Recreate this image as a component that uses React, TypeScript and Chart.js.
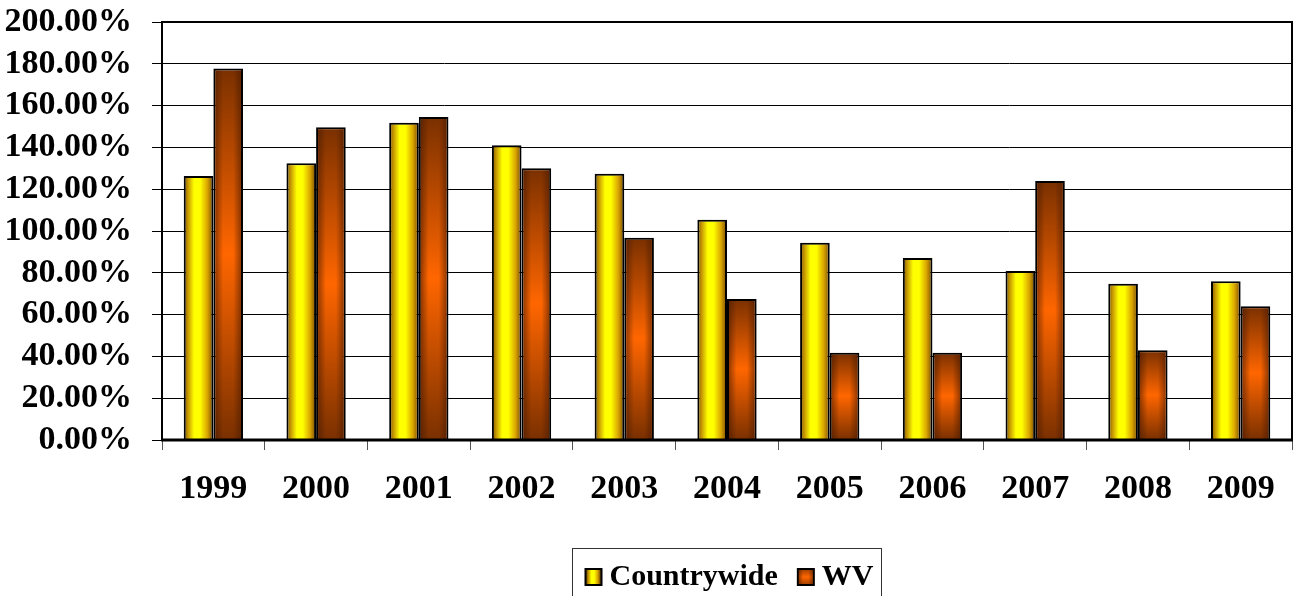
import React, { useEffect, useRef } from "react";
import { Chart, registerables } from "chart.js";

Chart.register(...registerables);

// Years on the category axis
const categories = ["1999", "2000", "2001", "2002", "2003", "2004", "2005", "2006", "2007", "2008", "2009"];

// Ratios in percent
const countrywide = [126.3, 132.4, 151.8, 141.0, 127.4, 105.4, 94.4, 87.1, 80.9, 74.8, 75.9];
const wv = [177.8, 149.6, 154.5, 130.0, 96.8, 67.5, 41.8, 41.8, 123.9, 42.9, 64.0];

const seriesLabels = ["Countrywide", "WV"];

const yMin = 0;
const yMax = 200;
const yStep = 20;

const FONT_FAMILY = "'Times New Roman', 'Liberation Serif', serif";

// Horizontal golden shading for the Countrywide bars
function goldGradient(ctx: CanvasRenderingContext2D, left: number, right: number) {
  const g = ctx.createLinearGradient(left, 0, right, 0);
  g.addColorStop(0, "#7a5400");
  g.addColorStop(0.15, "#c89a00");
  g.addColorStop(0.35, "#ffff00");
  g.addColorStop(0.55, "#ffff00");
  g.addColorStop(0.8, "#d9a400");
  g.addColorStop(1, "#744800");
  return g;
}

// Vertical brown-orange-brown shading for the WV bars
function orangeGradient(ctx: CanvasRenderingContext2D, top: number, bottom: number) {
  const g = ctx.createLinearGradient(0, top, 0, bottom);
  g.addColorStop(0, "#7a3000");
  g.addColorStop(0.5, "#ff6600");
  g.addColorStop(1, "#7a3000");
  return g;
}

function edgeShade(ctx: CanvasRenderingContext2D, left: number, right: number) {
  const g = ctx.createLinearGradient(left, 0, right, 0);
  g.addColorStop(0, "rgba(70,25,0,0.55)");
  g.addColorStop(0.3, "rgba(70,25,0,0)");
  g.addColorStop(0.7, "rgba(70,25,0,0)");
  g.addColorStop(1, "rgba(70,25,0,0.55)");
  return g;
}

const barShading = {
  id: "barShading",
  beforeDatasetsDraw(chart: any) {
    const ctx = chart.ctx;
    chart.data.datasets.forEach((_: any, di: number) => {
      const meta = chart.getDatasetMeta(di);
      meta.data.forEach((bar: any) => {
        const { x, y, base, width } = bar.getProps(["x", "y", "base", "width"], true);
        const fill =
          di === 0
            ? goldGradient(ctx, x - width / 2, x + width / 2)
            : orangeGradient(ctx, y, base);
        // each bar gets its own options object so the fills stay separate
        bar.options = { ...bar.options, backgroundColor: fill };
      });
    });
  },
  afterDatasetsDraw(chart: any) {
    const ctx = chart.ctx;
    const meta = chart.getDatasetMeta(1);
    ctx.save();
    meta.data.forEach((bar: any) => {
      const { x, y, base, width } = bar.getProps(["x", "y", "base", "width"], true);
      const bw = bar.options.borderWidth;
      const left = x - width / 2 + bw;
      const right = x + width / 2 - bw;
      ctx.fillStyle = edgeShade(ctx, left, right);
      ctx.fillRect(left, y + bw, right - left, base - y - bw);
    });
    // plot frame
    const { left, right, top, bottom } = chart.chartArea;
    ctx.strokeStyle = "#000";
    ctx.lineWidth = 2;
    ctx.beginPath();
    ctx.moveTo(left, bottom);
    ctx.lineTo(left, top);
    ctx.lineTo(right, top);
    ctx.lineTo(right, bottom);
    ctx.stroke();
    ctx.lineWidth = 3;
    ctx.beginPath();
    ctx.moveTo(left - 1, bottom);
    ctx.lineTo(right + 1, bottom);
    ctx.stroke();
    ctx.restore();
  },
};

// Boxed legend centred under the plot
const boxedLegend = {
  id: "boxedLegend",
  afterDraw(chart: any) {
    const ctx = chart.ctx;
    const area = chart.chartArea;
    ctx.save();
    ctx.font = `bold 30px ${FONT_FAMILY}`;
    const marker = 18;
    const gap = 7;
    const itemGap = 19;
    const padL = 12;
    const padR = 8;
    const widths = seriesLabels.map((t) => ctx.measureText(t).width);
    const total = padL + padR + widths.reduce((a, w) => a + marker + gap + w, 0) + itemGap * (widths.length - 1);
    const boxLeft = Math.round((area.left + area.right) / 2 - total / 2) + 0.5;
    const boxTop = 548.5;
    ctx.strokeStyle = "#333";
    ctx.lineWidth = 1;
    ctx.strokeRect(boxLeft, boxTop, total, 80);

    const midY = 577;
    let cx = boxLeft + padL;
    seriesLabels.forEach((label, i) => {
      const mTop = midY - marker / 2;
      ctx.fillStyle = "#000";
      ctx.fillRect(cx, mTop, marker, marker);
      const inL = cx + 2;
      const inT = mTop + 2;
      const inW = marker - 4;
      const inH = marker - 4;
      if (i === 0) {
        ctx.fillStyle = goldGradient(ctx, inL, inL + inW);
        ctx.fillRect(inL, inT, inW, inH);
      } else {
        ctx.fillStyle = orangeGradient(ctx, inT - 4, inT + inH + 4);
        ctx.fillRect(inL, inT, inW, inH);
        ctx.fillStyle = edgeShade(ctx, inL, inL + inW);
        ctx.fillRect(inL, inT, inW, inH);
      }
      cx += marker + gap;
      ctx.fillStyle = "#000";
      ctx.textAlign = "left";
      ctx.textBaseline = "middle";
      ctx.fillText(label, cx, midY);
      cx += widths[i] + itemGap;
    });
    ctx.restore();
  },
};

export default function App() {
  const canvasRef = useRef<HTMLCanvasElement | null>(null);

  useEffect(() => {
    if (!canvasRef.current) return;
    const tickFont = { family: FONT_FAMILY, size: 34, weight: "bold" as const };
    const chart = new Chart(canvasRef.current, {
      type: "bar",
      data: {
        labels: categories,
        datasets: [
          {
            label: seriesLabels[0],
            data: countrywide,
            backgroundColor: "#ffff00",
            borderColor: "#000",
            borderWidth: 2,
            categoryPercentage: 0.577,
            barPercentage: 1,
          },
          {
            label: seriesLabels[1],
            data: wv,
            backgroundColor: "#ff6600",
            borderColor: "#000",
            borderWidth: 2,
            categoryPercentage: 0.577,
            barPercentage: 1,
          },
        ],
      },
      options: {
        responsive: true,
        maintainAspectRatio: false,
        animation: false,
        events: [],
        layout: { padding: { left: 0, top: 22, right: 4, bottom: 0 } },
        plugins: {
          legend: { display: false },
          tooltip: { enabled: false },
          title: { display: false },
        },
        scales: {
          x: {
            grid: {
              display: true,
              drawOnChartArea: false,
              drawTicks: true,
              tickLength: 10,
              color: "#555",
              offset: true,
            },
            border: { display: false },
            ticks: {
              font: tickFont,
              color: "#000",
              padding: 19,
              maxRotation: 0,
              autoSkip: false,
            },
            afterFit(scale: any) {
              scale.height = 156;
              scale.paddingLeft = 0;
              scale.paddingRight = 0;
            },
          },
          y: {
            min: yMin,
            max: yMax,
            grid: { color: "#000", lineWidth: 1, tickLength: 10 },
            border: { display: false },
            ticks: {
              stepSize: yStep,
              autoSkip: false,
              font: tickFont,
              color: "#000",
              padding: 20,
              callback: (v: any) => `${Number(v).toFixed(2)}%`,
            },
            afterFit(scale: any) {
              scale.width = 162;
              scale.paddingTop = 0;
              scale.paddingBottom = 0;
            },
          },
        },
      },
      plugins: [barShading, boxedLegend],
    });
    return () => chart.destroy();
  }, []);

  return (
    <div style={{ position: "fixed", left: 0, top: 0, width: 1296, height: 596, background: "#fff" }}>
      <canvas ref={canvasRef} />
    </div>
  );
}
